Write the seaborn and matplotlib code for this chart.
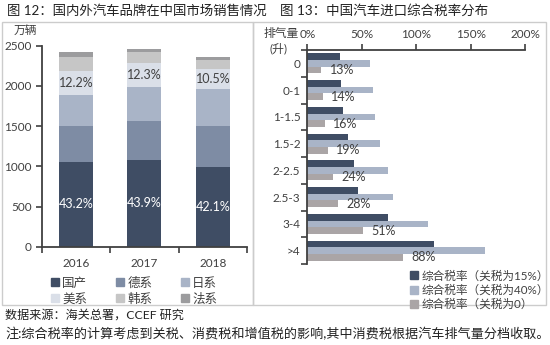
import numpy as np
import pandas as pd
import matplotlib
matplotlib.use("Agg")
import matplotlib.pyplot as plt
import seaborn as sns
from matplotlib.lines import Line2D
from matplotlib.patches import Rectangle
from matplotlib.ticker import FixedLocator

# ---------------- data ----------------
years = ["2016", "2017", "2018"]
brands = ["国产", "德系", "日系", "美系", "韩系", "法系"]
domestic = [1050, 1078, 995]
german = [451, 489, 510]
japanese = [386, 416, 453]
american = [296, 302, 250]
korean = [180, 133, 114]
french = [62, 41, 34]
domestic_share = ["43.2%", "43.9%", "42.1%"]
american_share = ["12.2%", "12.3%", "10.5%"]

displacement = ["0", "0-1", "1-1.5", "1.5-2", "2-2.5", "2.5-3", "3-4", ">4"]
series_names = ["综合税率（关税为15%）", "综合税率（关税为40%）", "综合税率（关税为0）"]
rate15 = [30, 31, 33, 37, 43, 47, 74, 116]
rate40 = [58, 60, 62, 67, 74, 79, 111, 163]
rate0 = [13, 14, 16, 19, 24, 28, 51, 88]
rate0_labels = ["13%", "14%", "16%", "19%", "24%", "28%", "51%", "88%"]
pct_ticks = [0, 50, 100, 150, 200]

# ---------------- style ----------------
sns.set_style("white")
plt.rcParams["font.family"] = ["Lato", "Noto Sans CJK SC", "DejaVu Sans"]
TXT = "#404040"
brand_colors = ["#3f4d64", "#7e8ca4", "#a9b4c7", "#dadfe8", "#c6c6c6", "#9c9c9e"]
rate_colors = ["#3f4d64", "#a9b4c7", "#aaa5a6"]

W, H = 550, 345
fig = plt.figure(figsize=(5.5, 3.45), dpi=100)
fx = lambda x: x / W
fy = lambda y: 1 - y / H

# panel borders
for x0, x1 in [(2, 253), (253, 546)]:
    fig.patches.append(Rectangle((fx(x0), fy(305)), fx(x1) - fx(x0), fy(22) - fy(305),
                                 transform=fig.transFigure, fill=False, ec="#cccccc", lw=1))

# ---------------- left chart ----------------
ax = fig.add_axes([fx(41.7), fy(246.7), fx(247) - fx(41.7), fy(45.7) - fy(246.7)])
layers = [domestic, german, japanese, american, korean, french]
cum = np.cumsum(np.array(layers, dtype=float), axis=0)
for k in range(len(layers) - 1, -1, -1):
    df = pd.DataFrame({"year": years, "value": cum[k]})
    sns.barplot(data=df, x="year", y="value", color=brand_colors[k], width=0.5,
                saturation=1, errorbar=None, linewidth=0, ax=ax)
ax.set_xlim(-0.5, 2.5)
ax.set_ylim(0, 2500)
ax.set_yticks([0, 500, 1000, 1500, 2000, 2500])
ax.set_xlabel("")
ax.set_ylabel("")
for s in ["top", "right"]:
    ax.spines[s].set_visible(False)
for s in ["left", "bottom"]:
    ax.spines[s].set_color(TXT)
    ax.spines[s].set_linewidth(1.3)
ax.tick_params(axis="y", direction="out", length=4, width=1.2, color=TXT,
               labelsize=8.5, labelcolor=TXT, pad=3, left=True)
ax.tick_params(axis="x", which="major", length=0, labelsize=8.5, labelcolor=TXT, pad=8)
ax.xaxis.set_minor_locator(FixedLocator([-0.5, 0.5, 1.5, 2.5]))
ax.tick_params(axis="x", which="minor", direction="out", length=4, width=1.2, color=TXT, bottom=True)
for i in range(3):
    ax.text(i, domestic[i] / 2, domestic_share[i], ha="center", va="center",
            color="white", fontsize=9)
    ax.text(i, cum[2][i] + american[i] / 2, american_share[i], ha="center", va="center",
            color=TXT, fontsize=9)
fig.text(fx(25), fy(30), "万辆", ha="center", va="center", fontsize=8.5, color=TXT)

order = [0, 3, 1, 4, 2, 5]
handles = [Line2D([], [], marker="s", ls="none", markersize=5.5, color=brand_colors[k]) for k in order]
fig.legend(handles, [brands[k] for k in order], ncol=3, loc="center",
           bbox_to_anchor=(fx(134), fy(290.5)), frameon=False, fontsize=9,
           handlelength=0.6, handletextpad=0.3, columnspacing=2.3, labelspacing=0.3,
           borderpad=0, labelcolor=TXT)

# ---------------- right chart ----------------
ax2 = fig.add_axes([fx(307.3), fy(264), fx(525) - fx(307.3), fy(50) - fy(264)])
rows = []
for name, vals in zip(series_names, [rate15, rate40, rate0]):
    for d, v in zip(displacement, vals):
        rows.append({"disp": d, "rate": v, "series": name})
rdf = pd.DataFrame(rows)
sns.barplot(data=rdf, y="disp", x="rate", hue="series", orient="h",
            palette=rate_colors, width=0.75, saturation=1, errorbar=None,
            linewidth=0, legend=False, ax=ax2)
ax2.set_xlim(0, 200)
ax2.set_ylim(7.5, -0.5)
ax2.set_xlabel("")
ax2.set_ylabel("")
ax2.xaxis.tick_top()
ax2.set_xticks(pct_ticks)
ax2.set_xticklabels([f"{t}%" for t in pct_ticks])
for s in ["bottom", "right"]:
    ax2.spines[s].set_visible(False)
for s in ["top", "left"]:
    ax2.spines[s].set_color(TXT)
    ax2.spines[s].set_linewidth(1.3)
ax2.tick_params(axis="x", direction="out", length=4, width=1.2, color=TXT,
                labelsize=8.5, labelcolor=TXT, pad=3, top=True)
ax2.tick_params(axis="y", which="major", length=0, labelsize=8.5, labelcolor=TXT, pad=5)
ax2.yaxis.set_minor_locator(FixedLocator(np.arange(-0.5, 8.0, 1.0)))
ax2.tick_params(axis="y", which="minor", direction="out", length=4, width=1.2, color=TXT, left=True)
ax2.bar_label(ax2.containers[2], labels=rate0_labels, padding=6, fontsize=9, color=TXT)

fig.text(fx(281), fy(34), "排气量", ha="center", va="center", fontsize=8.5, color=TXT)
fig.text(fx(278), fy(48), "(升)", ha="center", va="center", fontsize=8.5, color=TXT)

rh = [Line2D([], [], marker="s", ls="none", markersize=5.5, color=c) for c in rate_colors]
fig.legend(rh, series_names, ncol=1, loc="upper left",
           bbox_to_anchor=(fx(405), fy(264)), frameon=False, fontsize=8.4,
           handlelength=0.6, handletextpad=0.3, labelspacing=0.26,
           borderpad=0, labelcolor=TXT)

# ---------------- titles & notes ----------------
renderer = fig.canvas.get_renderer()

def fit(t, x0, x1):
    bb = t.get_window_extent(renderer)
    t.set_fontsize(t.get_fontsize() * (x1 - x0) / bb.width)

t1 = fig.text(fx(7), fy(10), "图 12：国内外汽车品牌在中国市场销售情况", ha="left", va="center",
              fontsize=10, color="#222222")
fit(t1, 7, 268)
t2 = fig.text(fx(280), fy(10), "图 13：中国汽车进口综合税率分布", ha="left", va="center",
              fontsize=10, color="#222222")
fit(t2, 280, 488)
t3 = fig.text(fx(5), fy(315), "数据来源：海关总署，CCEF 研究", ha="left", va="center",
              fontsize=9, color="#222222")
fit(t3, 5, 183)
t4 = fig.text(fx(5), fy(333), "注:综合税率的计算考虑到关税、消费税和增值税的影响,其中消费税根据汽车排气量分档收取。",
              ha="left", va="center", fontsize=9, color="#222222")
fit(t4, 5, 547)

fig.savefig("out.png", dpi=100)
